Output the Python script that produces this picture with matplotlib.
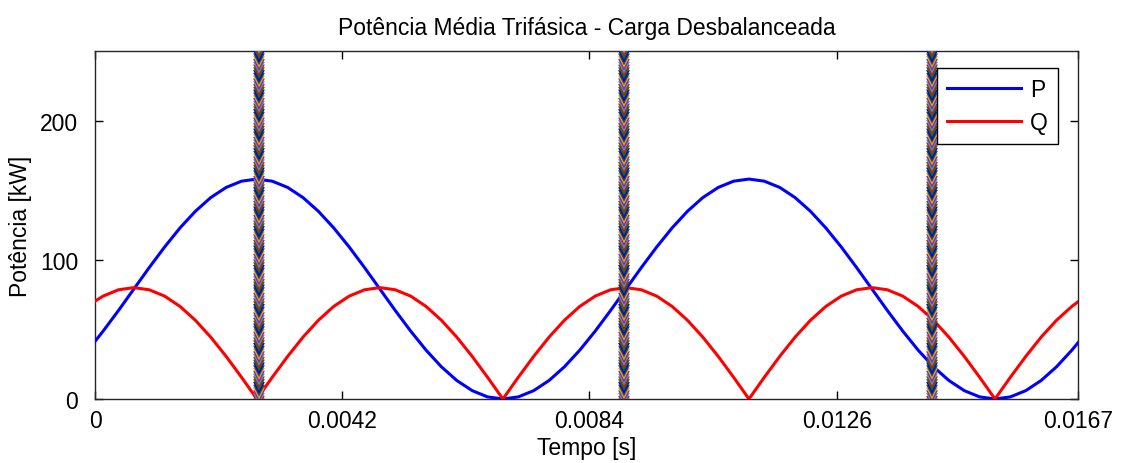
import matplotlib
matplotlib.use("Agg")
import matplotlib.pyplot as plt
import numpy as np

# ---- data ----
t = [0.0, 0.000138, 0.000399, 0.00066, 0.000921, 0.001183, 0.001444, 0.001705, 0.001966,
     0.002228, 0.002489, 0.00275, 0.003011, 0.003273, 0.003534, 0.003795, 0.004056,
     0.004318, 0.004579, 0.00484, 0.005101, 0.005363, 0.005624, 0.005885, 0.006146,
     0.006408, 0.006669, 0.00693, 0.007191, 0.007453, 0.007714, 0.007975, 0.008236,
     0.008498, 0.008759, 0.00902, 0.009281, 0.009543, 0.009804, 0.010065, 0.010326,
     0.010588, 0.010849, 0.01111, 0.011371, 0.011633, 0.011894, 0.012155, 0.012416,
     0.012678, 0.012939, 0.0132, 0.013461, 0.013723, 0.013984, 0.014245, 0.014506,
     0.014768, 0.015029, 0.01529, 0.015551, 0.015813, 0.016074, 0.016335, 0.016596, 0.0167]

P = [41.4, 48.77, 63.59, 79.0, 94.41, 109.23, 122.89, 134.86, 144.69, 151.99, 156.48,
     158.0,
     156.48, 151.99, 144.69, 134.86, 122.89, 109.23, 94.41, 79.0, 63.59, 48.77, 35.11,
     23.14, 13.31, 6.01, 1.52, 0.0,
     1.52, 6.01, 13.31, 23.14, 35.11, 48.77, 63.59, 79.0, 94.41, 109.23, 122.89, 134.86,
     144.69, 151.99, 156.48, 158.0,
     156.48, 151.99, 144.69, 134.86, 122.89, 109.23, 94.41, 79.0, 63.59, 48.77, 35.11,
     23.14, 13.31, 6.01, 1.52, 0.0,
     1.52, 6.01, 13.31, 23.14, 35.11, 40.4]

Q = [70.3, 73.91, 78.46, 80.0, 78.46, 73.91, 66.52, 56.57, 44.45, 30.61, 15.61,
     0.0,
     15.61, 30.61, 44.45, 56.57, 66.52, 73.91, 78.46, 80.0, 78.46, 73.91, 66.52, 56.57,
     44.45, 30.61, 15.61, 0.0,
     15.61, 30.61, 44.45, 56.57, 66.52, 73.91, 78.46, 80.0, 78.46, 73.91, 66.52, 56.57,
     44.45, 30.61, 15.61, 0.0,
     15.61, 30.61, 44.45, 56.57, 66.52, 73.91, 78.46, 80.0, 78.46, 73.91, 66.52, 56.57,
     44.45, 30.61, 15.61, 0.0,
     15.61, 30.61, 44.45, 56.57, 66.52, 69.8]

vline_times = [0.002786, 0.008987, 0.01422]
xticks = [0, 0.0042, 0.0084, 0.0126, 0.0167]
xticklabels = ["0", "0.0042", "0.0084", "0.0126", "0.0167"]
yticks = [0, 100, 200]
ylim = (0, 250)

title = "Potência Média Trifásica - Carga Desbalanceada"
xlabel = "Tempo [s]"
ylabel = "Potência [kW]"

# ---- style ----
plt.rcParams['font.family'] = ['Liberation Sans', 'DejaVu Sans']
FS = 16.5
matlab_colors = ['#0000FF', '#008000', '#FF0000', '#00BFBF', '#BF00BF', '#BFBF00', '#404040']

fig = plt.figure(figsize=(11.22, 4.64), dpi=100)
ax = fig.add_axes([95 / 1122, 64 / 464, 983 / 1122, 348 / 464])

ax.plot(t, P, color='#0000FF', lw=2.2, label='P', zorder=3)
ax.plot(t, Q, color='#FF0000', lw=2.2, label='Q', zorder=3)

# multicoloured vertical bands (many overlapping coloured traces)
step = 2.0
ys = np.arange(ylim[0] - step * 3, ylim[1] + step * 4, step)
cols = [matlab_colors[i % len(matlab_colors)] for i in range(len(ys))]
for tv in vline_times:
    ax.scatter(np.full(len(ys), tv), ys, c=cols, marker='v', s=72, linewidths=0,
               zorder=4, alpha=1.0)

ax.set_xlim(0, 0.0167)
ax.set_ylim(*ylim)
ax.set_xticks(xticks)
ax.set_xticklabels(xticklabels)
ax.set_yticks(yticks)
ax.tick_params(direction='in', length=6, width=1, top=True, right=True,
               labelsize=FS, colors='black', pad=7)
ax.tick_params(axis='y', pad=12)
for s in ax.spines.values():
    s.set_linewidth(1)
    s.set_color('#262626')

ax.set_title(title, fontsize=FS, pad=12)
ax.set_xlabel(xlabel, fontsize=FS, labelpad=3)
ax.set_ylabel(ylabel, fontsize=FS, labelpad=6)

leg = ax.legend(loc='upper right', bbox_to_anchor=(0.9797, 0.9511), borderaxespad=0,
                fontsize=FS, frameon=True, fancybox=False, handlelength=3.2,
                handletextpad=0.4, labelspacing=0.42, borderpad=0.45)
leg.get_frame().set_edgecolor('black')
leg.get_frame().set_linewidth(1)
leg.get_frame().set_alpha(1)
leg.set_zorder(10)

fig.savefig('out.png', dpi=100)
